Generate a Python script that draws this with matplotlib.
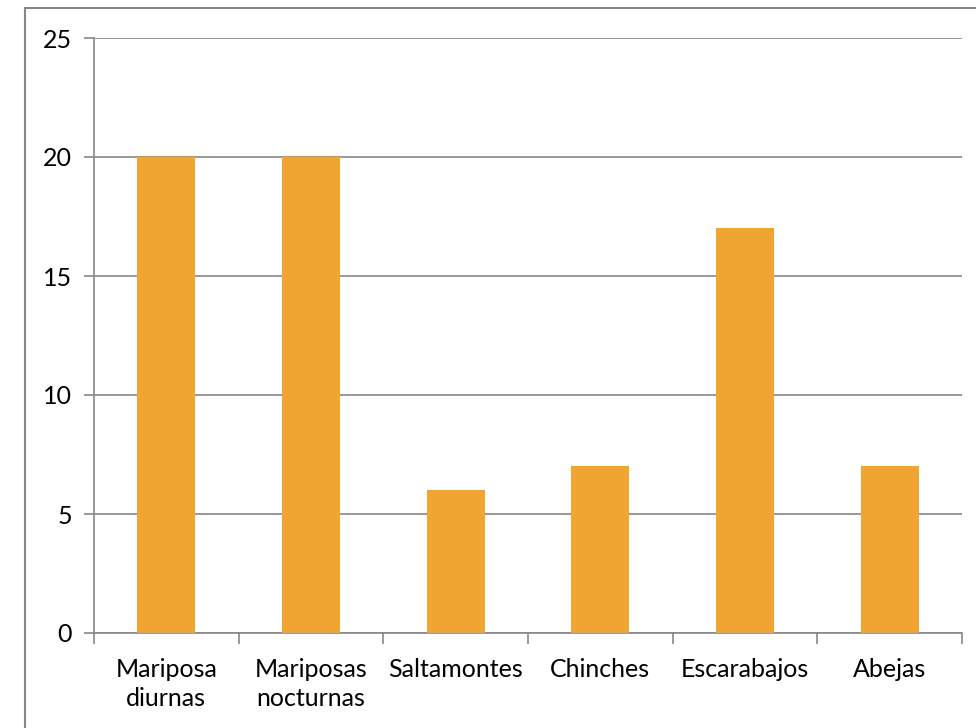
import matplotlib
matplotlib.use("Agg")
import matplotlib.pyplot as plt
from matplotlib.patches import Rectangle

categories = ["Mariposa\ndiurnas", "Mariposas\nnocturnas", "Saltamontes", "Chinches", "Escarabajos", "Abejas"]
values = [20, 20, 6, 7, 17, 7]
yticks = [0, 5, 10, 15, 20, 25]

plt.rcParams['font.family'] = ['Lato', 'DejaVu Sans']

W, H = 976, 728
fig = plt.figure(figsize=(W/100, H/100), dpi=100)
ax = fig.add_axes([94/W, 1-633/H, (962-94)/W, (633-38)/H])

gray = "#878787"
x = list(range(len(categories)))
ax.bar(x, values, width=0.4, color="#F0A431", zorder=3)
ax.set_xlim(-0.5, len(categories)-0.5)
ax.set_ylim(0, 25)
ax.set_yticks(yticks)
ax.set_yticklabels([str(v) for v in yticks], fontsize=18)
ax.yaxis.grid(True, color=gray, linewidth=1.2, zorder=0)
ax.set_xticks(x)
ax.set_xticklabels(categories, fontsize=18, linespacing=1.32)
ax.tick_params(axis='x', length=0, pad=18)
ax.set_xticks([i - 0.5 for i in range(len(categories)+1)], minor=True)
ax.tick_params(axis='x', which='minor', length=8, color=gray, width=1.2, direction='out')
ax.tick_params(axis='y', length=7, color=gray, width=1.2, pad=9)
for s in ['top', 'right']:
    ax.spines[s].set_visible(False)
for s in ['left', 'bottom']:
    ax.spines[s].set_color(gray)
    ax.spines[s].set_linewidth(1.2)

fig.patches.append(Rectangle((25/W, -0.1), 1.2, 1 - 8/H + 0.1, transform=fig.transFigure,
                             fill=False, edgecolor=gray, linewidth=1.5))

fig.savefig("out.png", dpi=100)
